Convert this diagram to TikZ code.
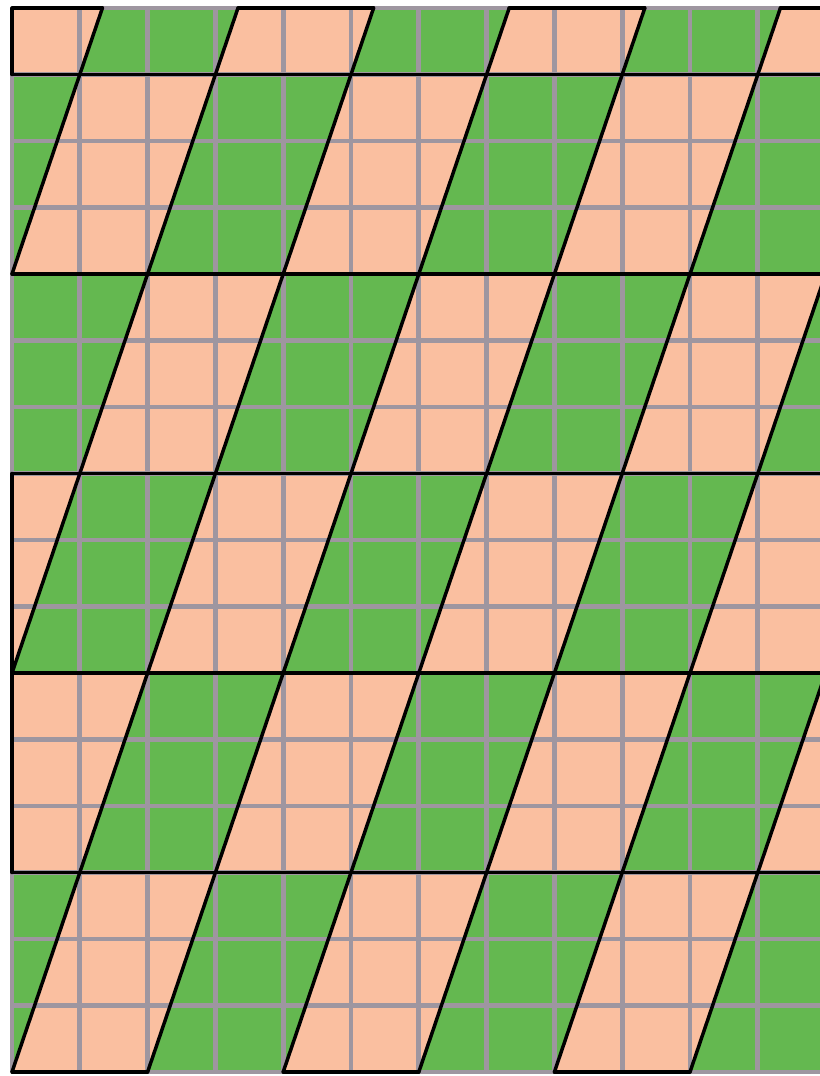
\documentclass[tikz,border=0pt]{standalone}
\usepackage{tikz}

\definecolor{tileGreen}{RGB}{100,184,80}
\definecolor{tilePink}{RGB}{250,191,160}
\definecolor{gridGray}{RGB}{158,150,160}

\begin{document}
\begin{tikzpicture}[x=0.75pt,y=0.75pt,yscale=-1,xscale=1, scale=1.0,
		pinkcell/.style={fill=tilePink, draw=none},
		gridline/.style={color=gridGray, line width=3.6pt},
		edgeline/.style={color=black, line width=2.6pt, line cap=round, line join=round}]
		%set diagram to 819 x 1076
		\useasboundingbox (0,0) rectangle (819,1076);
		
		%Shape: Rectangle [id:background]
		\fill [white] (0,0) rectangle (819,1076);
		\fill [tileGreen] (12,8) rectangle (830,1072);
		
		%Shape: Parallelogram row 1 (bottom)
		\path [pinkcell] (12,1072) -- (147.6,1072) -- (215.4,872.5) -- (79.8,872.5) -- cycle ;
		\path [pinkcell] (283.2,1072) -- (418.8,1072) -- (486.6,872.5) -- (351,872.5) -- cycle ;
		\path [pinkcell] (554.4,1072) -- (690,1072) -- (757.8,872.5) -- (622.2,872.5) -- cycle ;
		%Shape: Parallelogram row 2
		\path [pinkcell] (12,872.5) -- (79.8,872.5) -- (147.6,673) -- (12,673) -- cycle ;
		\path [pinkcell] (215.4,872.5) -- (351,872.5) -- (418.8,673) -- (283.2,673) -- cycle ;
		\path [pinkcell] (486.6,872.5) -- (622.2,872.5) -- (690,673) -- (554.4,673) -- cycle ;
		\path [pinkcell] (757.8,872.5) -- (893.4,872.5) -- (961.2,673) -- (825.6,673) -- cycle ;
		%Shape: Parallelogram row 3
		\path [pinkcell] (12,673) -- (79.8,473.5) -- (12,473.5) -- cycle ;
		\path [pinkcell] (147.6,673) -- (283.2,673) -- (351,473.5) -- (215.4,473.5) -- cycle ;
		\path [pinkcell] (418.8,673) -- (554.4,673) -- (622.2,473.5) -- (486.6,473.5) -- cycle ;
		\path [pinkcell] (690,673) -- (825.6,673) -- (893.4,473.5) -- (757.8,473.5) -- cycle ;
		%Shape: Parallelogram row 4
		\path [pinkcell] (79.8,473.5) -- (215.4,473.5) -- (283.2,274) -- (147.6,274) -- cycle ;
		\path [pinkcell] (351,473.5) -- (486.6,473.5) -- (554.4,274) -- (418.8,274) -- cycle ;
		\path [pinkcell] (622.2,473.5) -- (757.8,473.5) -- (825.6,274) -- (690,274) -- cycle ;
		%Shape: Parallelogram row 5
		\path [pinkcell] (12,274) -- (147.6,274) -- (215.4,74.5) -- (79.8,74.5) -- cycle ;
		\path [pinkcell] (283.2,274) -- (418.8,274) -- (486.6,74.5) -- (351,74.5) -- cycle ;
		\path [pinkcell] (554.4,274) -- (690,274) -- (757.8,74.5) -- (622.2,74.5) -- cycle ;
		%Shape: Parallelogram row 6 (top, cut)
		\path [pinkcell] (12,74.5) -- (79.8,74.5) -- (102.4,8) -- (12,8) -- cycle ;
		\path [pinkcell] (215.4,74.5) -- (351,74.5) -- (373.6,8) -- (238,8) -- cycle ;
		\path [pinkcell] (486.6,74.5) -- (622.2,74.5) -- (644.8,8) -- (509.2,8) -- cycle ;
		\path [pinkcell] (757.8,74.5) -- (893.4,74.5) -- (916,8) -- (780.4,8) -- cycle ;
		
		%Straight Lines [id:grid vertical]
		\draw [gridline] (12,8) -- (12,1072) (79.8,8) -- (79.8,1072) (147.6,8) -- (147.6,1072)
			(215.4,8) -- (215.4,1072) (283.2,8) -- (283.2,1072) (351,8) -- (351,1072)
			(418.8,8) -- (418.8,1072) (486.6,8) -- (486.6,1072) (554.4,8) -- (554.4,1072)
			(622.2,8) -- (622.2,1072) (690,8) -- (690,1072) (757.8,8) -- (757.8,1072) ;
		%Straight Lines [id:grid horizontal]
		\draw [gridline] (12,8) -- (830,8) (12,74.5) -- (830,74.5) (12,141) -- (830,141)
			(12,207.5) -- (830,207.5) (12,274) -- (830,274) (12,340.5) -- (830,340.5)
			(12,407) -- (830,407) (12,473.5) -- (830,473.5) (12,540) -- (830,540)
			(12,606.5) -- (830,606.5) (12,673) -- (830,673) (12,739.5) -- (830,739.5)
			(12,806) -- (830,806) (12,872.5) -- (830,872.5) (12,939) -- (830,939)
			(12,1005.5) -- (830,1005.5) (12,1072) -- (830,1072) ;
		
		%Straight Lines [id:row borders]
		\draw [edgeline] (12,74.5) -- (830,74.5) (12,274) -- (830,274) (12,473.5) -- (830,473.5)
			(12,673) -- (830,673) (12,872.5) -- (830,872.5) ;
		%Straight Lines [id:slanted borders]
		\draw [edgeline] (12,274) -- (102.4,8) (12,673) -- (238,8) (12,1072) -- (373.6,8)
			(147.6,1072) -- (509.2,8) (283.2,1072) -- (644.8,8) (418.8,1072) -- (780.4,8)
			(554.4,1072) -- (916,8) (690,1072) -- (1051.6,8) ;
		%Straight Lines [id:outer edge of pink cells]
		\draw [edgeline] (12,872.5) -- (12,473.5) (12,74.5) -- (12,8)
			(12,8) -- (102.4,8) (238,8) -- (373.6,8) (509.2,8) -- (644.8,8) (780.4,8) -- (830,8)
			(12,1072) -- (147.6,1072) (283.2,1072) -- (418.8,1072) (554.4,1072) -- (690,1072) ;
	\end{tikzpicture}
\end{document}
